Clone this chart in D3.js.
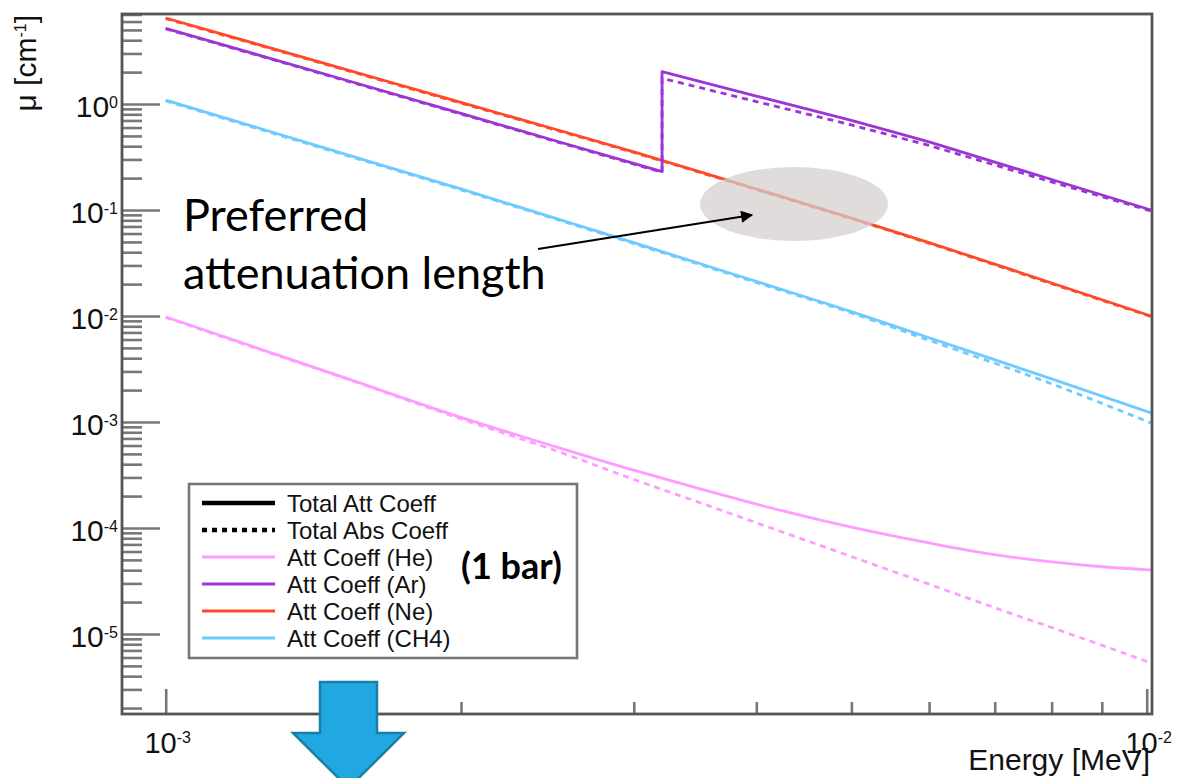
<!DOCTYPE html>
<html>
<head>
<meta charset="utf-8">
<script src="https://cdn.jsdelivr.net/npm/d3@7"></script>
<style>
  html, body { margin: 0; padding: 0; background: #fff; }
  svg { display: block; }
</style>
</head>
<body>
<svg id="chart" width="1178" height="778"></svg>
<script>
// Photon attenuation (solid) and absorption (dashed) coefficients, 1 bar gases.
// Energies in MeV, coefficients in cm^-1.
const heEnergy = [0.001, 0.00125, 0.0015, 0.002, 0.0025, 0.003, 0.0035, 0.004, 0.005, 0.006, 0.007, 0.008, 0.009, 0.0101];
const heAtt = [9.8e-3, 4.86e-3, 2.74e-3, 1.107e-3, 5.83e-4, 3.51e-4, 2.35e-4, 1.68e-4, 1.02e-4, 7.23e-5, 5.61e-5, 4.78e-5, 4.31e-5, 4.02e-5];
const heAbs = [9.7e-3, 4.80e-3, 2.72e-3, 1.07e-3, 5.35e-4, 2.87e-4, 1.74e-4, 1.12e-4, 5.38e-5, 2.95e-5, 1.77e-5, 1.15e-5, 7.84e-6, 5.32e-6];

// Argon: K edge at 3.206 keV
const arEnergy = [0.001, 0.0015, 0.002, 0.0025, 0.003, 0.003206, 0.003206, 0.004, 0.005, 0.006, 0.008, 0.0101];
const arAtt = [5.18, 1.76, 0.815, 0.448, 0.275, 0.230, 2.02, 1.19, 0.70, 0.439, 0.194, 0.100];
const arAbs = [5.12, 1.74, 0.805, 0.442, 0.271, 0.227, 1.75, 1.055, 0.635, 0.407, 0.184, 0.098];

const neEnergy = [0.001, 0.0015, 0.002, 0.0025, 0.003, 0.004, 0.005, 0.006, 0.008, 0.0101];
const neAtt = [6.48, 2.22, 1.035, 0.575, 0.354, 0.158, 0.084, 0.0493, 0.0205, 0.0100];
const neAbs = [6.40, 2.19, 1.02, 0.567, 0.349, 0.156, 0.0829, 0.0486, 0.0202, 0.0099];

const ch4Energy = [0.001, 0.0015, 0.002, 0.003, 0.004, 0.005, 0.006, 0.008, 0.0101];
const ch4Att = [1.09, 0.352, 0.158, 0.0492, 0.0212, 0.0110, 6.24e-3, 2.55e-3, 1.22e-3];
const ch4Abs = [1.07, 0.345, 0.155, 0.0482, 0.0207, 0.0107, 5.9e-3, 2.29e-3, 9.8e-4];

const yMajorExponents = [0, -1, -2, -3, -4, -5];
const xMajorExponents = [-3, -2];

const legendLabels = ["Total Att Coeff", "Total Abs Coeff", "Att Coeff (He)", "Att Coeff (Ar)", "Att Coeff (Ne)", "Att Coeff (CH4)"];

// Preferred-region marker (energy in MeV, mu in cm^-1)
const preferredCenter = [0.00437, 0.114];

const colors = { he: "#ff9cff", ar: "#9d35d5", ne: "#ff4a2a", ch4: "#6fcbff" };

const svg = d3.select("#chart");
const frame = { left: 122, right: 1152, top: 14, bottom: 714 };

const x = d3.scaleLog().domain([0.0009025, 0.010125]).range([frame.left, frame.right]);
const y = d3.scaleLog().domain([1.758e-6, 7.07]).range([frame.bottom, frame.top]);

svg.append("defs").append("clipPath").attr("id", "plot-clip")
  .append("rect")
  .attr("x", frame.left).attr("y", frame.top)
  .attr("width", frame.right - frame.left).attr("height", frame.bottom - frame.top);

// ---- curves ----
const series = [
  { key: "he", e: heEnergy, att: heAtt, abs: heAbs, curve: d3.curveMonotoneX },
  { key: "ch4", e: ch4Energy, att: ch4Att, abs: ch4Abs, curve: d3.curveMonotoneX },
  { key: "ne", e: neEnergy, att: neAtt, abs: neAbs, curve: d3.curveMonotoneX },
  { key: "ar", e: arEnergy, att: arAtt, abs: arAbs, curve: d3.curveLinear }
];

const plot = svg.append("g").attr("clip-path", "url(#plot-clip)");
series.forEach(s => {
  const line = d3.line().x(d => x(d[0])).y(d => y(d[1])).curve(s.curve);
  const absPts = s.e.map((v, i) => [v, s.abs[i]]);
  const attPts = s.e.map((v, i) => [v, s.att[i]]);
  plot.append("path").attr("d", line(absPts))
    .attr("fill", "none").attr("stroke", colors[s.key])
    .attr("stroke-width", 2.8).attr("stroke-dasharray", "6,5");
  plot.append("path").attr("d", line(attPts))
    .attr("fill", "none").attr("stroke", colors[s.key])
    .attr("stroke-width", 2.8).attr("stroke-linejoin", "round");
});

// ---- ticks ----
const yTicks = [], xTicks = [];
for (let d = -6; d <= 0; d++) for (let k = 1; k <= 9; k++) {
  const v = k * Math.pow(10, d);
  if (v >= y.domain()[0] && v <= y.domain()[1]) yTicks.push({ v, major: k === 1 });
}
for (let d = -4; d <= -2; d++) for (let k = 1; k <= 9; k++) {
  const v = k * Math.pow(10, d);
  if (v >= x.domain()[0] && v <= x.domain()[1]) xTicks.push({ v, major: k === 1 });
}

const tickColor = "#777";
const yAxisMinor = d3.axisRight(y).tickValues(yTicks.filter(t => !t.major).map(t => t.v)).tickSize(20).tickSizeOuter(0).tickFormat("");
const yAxisMajor = d3.axisRight(y).tickValues(yTicks.filter(t => t.major).map(t => t.v)).tickSize(38).tickSizeOuter(0).tickFormat("");
const xAxisMinor = d3.axisTop(x).tickValues(xTicks.filter(t => !t.major).map(t => t.v)).tickSize(12).tickSizeOuter(0).tickFormat("");
const xAxisMajor = d3.axisTop(x).tickValues(xTicks.filter(t => t.major).map(t => t.v)).tickSize(25).tickSizeOuter(0).tickFormat("");

[[yAxisMinor, `translate(${frame.left},0)`], [yAxisMajor, `translate(${frame.left},0)`],
 [xAxisMinor, `translate(0,${frame.bottom})`], [xAxisMajor, `translate(0,${frame.bottom})`]].forEach(([ax, tr]) => {
  const g = svg.append("g").attr("transform", tr).call(ax);
  g.select(".domain").remove();
  g.selectAll("line").attr("stroke", tickColor).attr("stroke-width", 2.6);
});

// ---- frame ----
svg.append("rect")
  .attr("x", frame.left).attr("y", frame.top)
  .attr("width", frame.right - frame.left).attr("height", frame.bottom - frame.top)
  .attr("fill", "none").attr("stroke", "#555").attr("stroke-width", 2.8);

// ---- tick labels ----
const labelFont = "'Liberation Sans', Arial, Helvetica, sans-serif";
yMajorExponents.forEach(p => {
  const t = svg.append("text")
    .attr("x", frame.left - 4).attr("y", y(Math.pow(10, p)) + 13)
    .attr("text-anchor", "end").attr("font-family", labelFont).attr("font-size", 30).attr("fill", "#111");
  t.append("tspan").text("10");
  t.append("tspan").attr("font-size", 16).attr("dy", -9).text(String(p));
});
xMajorExponents.forEach(p => {
  const t = svg.append("text")
    .attr("x", x(Math.pow(10, p)) + 2).attr("y", 753)
    .attr("text-anchor", "middle").attr("font-family", labelFont).attr("font-size", 29).attr("fill", "#111");
  t.append("tspan").text("10");
  t.append("tspan").attr("font-size", 16).attr("dy", -10).text(String(p));
});

// ---- axis titles ----
svg.append("text")
  .attr("x", 1150).attr("y", 770)
  .attr("text-anchor", "end").attr("font-family", labelFont).attr("font-size", 30).attr("fill", "#111")
  .text("Energy [MeV]");

const yTitle = svg.append("text")
  .attr("transform", "translate(36,15) rotate(-90)")
  .attr("text-anchor", "end").attr("font-family", labelFont).attr("font-size", 30).attr("fill", "#111");
yTitle.append("tspan").text("μ [cm");
yTitle.append("tspan").attr("font-size", 16).attr("dy", -10).text("-1");
yTitle.append("tspan").attr("dy", 10).text("]");

// ---- legend ----
const legend = svg.append("g");
legend.append("rect")
  .attr("x", 189).attr("y", 484).attr("width", 388).attr("height", 174)
  .attr("fill", "#fff").attr("stroke", "#777").attr("stroke-width", 2.6);
const legendStyles = [
  { stroke: "#000", width: 4.5, dash: null },
  { stroke: "#000", width: 4.5, dash: "5,5" },
  { stroke: colors.he, width: 2.8, dash: null },
  { stroke: colors.ar, width: 2.8, dash: null },
  { stroke: colors.ne, width: 2.8, dash: null },
  { stroke: colors.ch4, width: 2.8, dash: null }
];
legendLabels.forEach((lab, i) => {
  const cy = 503 + i * 27;
  legend.append("line")
    .attr("x1", 202).attr("x2", 275).attr("y1", cy).attr("y2", cy)
    .attr("stroke", legendStyles[i].stroke).attr("stroke-width", legendStyles[i].width)
    .attr("stroke-dasharray", legendStyles[i].dash);
  legend.append("text")
    .attr("x", 287).attr("y", cy + 8.5)
    .attr("font-family", labelFont).attr("font-size", 24).attr("fill", "#111")
    .text(lab);
});

svg.append("text")
  .attr("x", 461).attr("y", 579)
  .attr("font-family", "Lato, 'Open Sans', sans-serif").attr("font-weight", "bold")
  .attr("font-size", 36).attr("fill", "#000")
  .text("(1 bar)");

// ---- preferred region annotation ----
svg.append("ellipse")
  .attr("cx", x(preferredCenter[0])).attr("cy", y(preferredCenter[1]))
  .attr("rx", 94).attr("ry", 37)
  .attr("fill", "#d4cfcd").attr("fill-opacity", 0.72);

svg.select("defs").append("marker")
  .attr("id", "head").attr("viewBox", "0 0 10 10")
  .attr("refX", 9).attr("refY", 5)
  .attr("markerWidth", 6).attr("markerHeight", 5.5)
  .attr("orient", "auto").attr("markerUnits", "strokeWidth")
  .append("path").attr("d", "M0,0 L10,5 L0,10 z").attr("fill", "#000");

svg.append("line")
  .attr("x1", 538).attr("y1", 249)
  .attr("x2", x(preferredCenter[0]) - 42).attr("y2", y(preferredCenter[1]) + 11)
  .attr("stroke", "#000").attr("stroke-width", 2.2)
  .attr("marker-end", "url(#head)");

const note = svg.append("text")
  .attr("font-family", "Lato, 'Open Sans', sans-serif").attr("font-size", 45).attr("fill", "#000");
note.append("tspan").attr("x", 183).attr("y", 231).text("Preferred");
note.append("tspan").attr("x", 183).attr("y", 289).text("attenuation length");

// ---- big blue arrow ----
const arrowPts = [[320, 682], [377, 682], [377, 733], [404, 733], [348.5, 788], [293, 733], [320, 733]];
svg.append("path")
  .attr("d", d3.line()(arrowPts) + "Z")
  .attr("fill", "#21a8e0").attr("stroke", "#1a7fa8").attr("stroke-width", 2.5)
  .attr("stroke-linejoin", "miter");
</script>
</body>
</html>
